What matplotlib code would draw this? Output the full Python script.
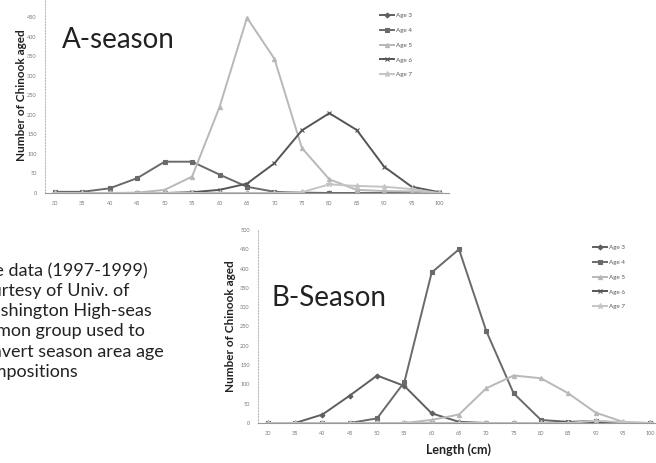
import matplotlib
matplotlib.use("Agg")
import matplotlib.pyplot as plt

plt.rcParams['font.family'] = ['Lato', 'DejaVu Sans']

# fork length classes (cm)
lengths = [30, 35, 40, 45, 50, 55, 60, 65, 70, 75, 80, 85, 90, 95, 100]
ages = ['Age 3', 'Age 4', 'Age 5', 'Age 6', 'Age 7']

# A-season counts by age
a_age3 = [0, 0, 0, 0, 0, 0, 0, 0, 0, 0, 0, 0, 0, 0, 0]
a_age4 = [3, 3, 12, 38, 80, 80, 47, 16, 3, 1, 0, 0, 0, 0, 0]
a_age5 = [0, 0, 0, 1, 8, 42, 220, 448, 343, 115, 35, 8, 5, 4, 0]
a_age6 = [0, 0, 0, 0, 0, 2, 8, 24, 76, 160, 204, 161, 67, 16, 2]
a_age7 = [0, 0, 0, 0, 0, 0, 0, 0, 0, 2, 22, 18, 16, 10, 0]

# B-season counts by age
b_age3 = [0, 0, 22, 71, 123, 96, 25, 3, 0, 0, 0, 0, 0, 0, 0]
b_age4 = [0, 0, 0, 0, 12, 106, 390, 450, 238, 77, 8, 3, 5, 0, 0]
b_age5 = [0, 0, 0, 0, 0, 0, 8, 22, 90, 123, 116, 77, 27, 3, 0]
b_age6 = [0, 0, 0, 0, 0, 0, 0, 0, 0, 0, 0, 2, 4, 0, 0]
b_age7 = [0, 0, 0, 0, 0, 0, 0, 0, 0, 0, 0, 0, 6, 2, 0]

# the top of panel A (500) is cut off by the slide edge
yticks_a = [0, 50, 100, 150, 200, 250, 300, 350, 400, 450]
yticks_b = [0, 50, 100, 150, 200, 250, 300, 350, 400, 450, 500]

colors = ['#5f5f5f', '#6a6a6a', '#b8b8b8', '#555555', '#c4c4c4']
markers = ['D', 's', '^', 'x', '*']
msizes = [2.5, 3.5, 3, 3.5, 4]


def draw_panel(ax, series, yticks, title, title_xy, legend_xy, ypad):
    for vals, lab, c, m, ms in zip(series, ages, colors, markers, msizes):
        ax.plot(lengths, vals, color=c, marker=m, markersize=ms, linewidth=1.4,
                markeredgewidth=0.8, label=lab)
    ax.set_xlim(28.2, 101.8)
    ax.set_ylim(0, 500)
    ax.set_xticks(lengths)
    ax.set_yticks(yticks)
    ax.tick_params(length=0, labelsize=4, labelcolor='#777777', pad=6)
    for s in ['top', 'right']:
        ax.spines[s].set_visible(False)
    ax.spines['left'].set_color('#bbbbbb')
    ax.spines['left'].set_linestyle(':')
    ax.spines['left'].set_linewidth(0.8)
    ax.spines['bottom'].set_color('#999999')
    ax.spines['bottom'].set_linewidth(0.8)
    ax.set_ylabel('Number of Chinook aged', fontsize=8.5, fontweight='bold',
                  labelpad=ypad, color='#222222')
    ax.patch.set_alpha(0)
    ax.text(title_xy[0], title_xy[1], title, fontsize=20, transform=fig.transFigure,
            ha='left', va='center', color='#222222')
    leg = ax.legend(loc='upper left', bbox_to_anchor=legend_xy, bbox_transform=fig.transFigure,
                    fontsize=4.5, frameon=False, handlelength=2.2, labelspacing=1.5,
                    handletextpad=0.4, borderaxespad=0, borderpad=0)
    for t in leg.get_texts():
        t.set_color('#555555')


fig = plt.figure(figsize=(6.56, 4.63), dpi=100)

axA = fig.add_axes([45 / 656, (463 - 193) / 463, (449 - 45) / 656, 195.6 / 463])
draw_panel(axA, [a_age3, a_age4, a_age5, a_age6, a_age7], yticks_a, 'A-season',
           (62 / 656, 1 - 40 / 463), (380 / 656, 1 - 13 / 463), 0)

axB = fig.add_axes([258 / 656, (463 - 423) / 463, (660 - 258) / 656, 193 / 463])
draw_panel(axB, [b_age3, b_age4, b_age5, b_age6, b_age7], yticks_b, 'B-Season',
           (272 / 656, 1 - 298 / 463), (593 / 656, 1 - 245 / 463), 3)
axB.set_xlabel('Length (cm)', fontsize=9, fontweight='bold', labelpad=5, color='#222222')

note = ("Age data (1997-1999)\ncourtesy of Univ. of\nWashington High-seas\n"
        "Salmon group used to\nconvert season area age\ncompositions")
fig.text(-27 / 656, 1 - 262 / 463, note, fontsize=13, ha='left', va='top',
         linespacing=1.33, color='#222222')

fig.savefig('out.png', dpi=100, facecolor='white')
